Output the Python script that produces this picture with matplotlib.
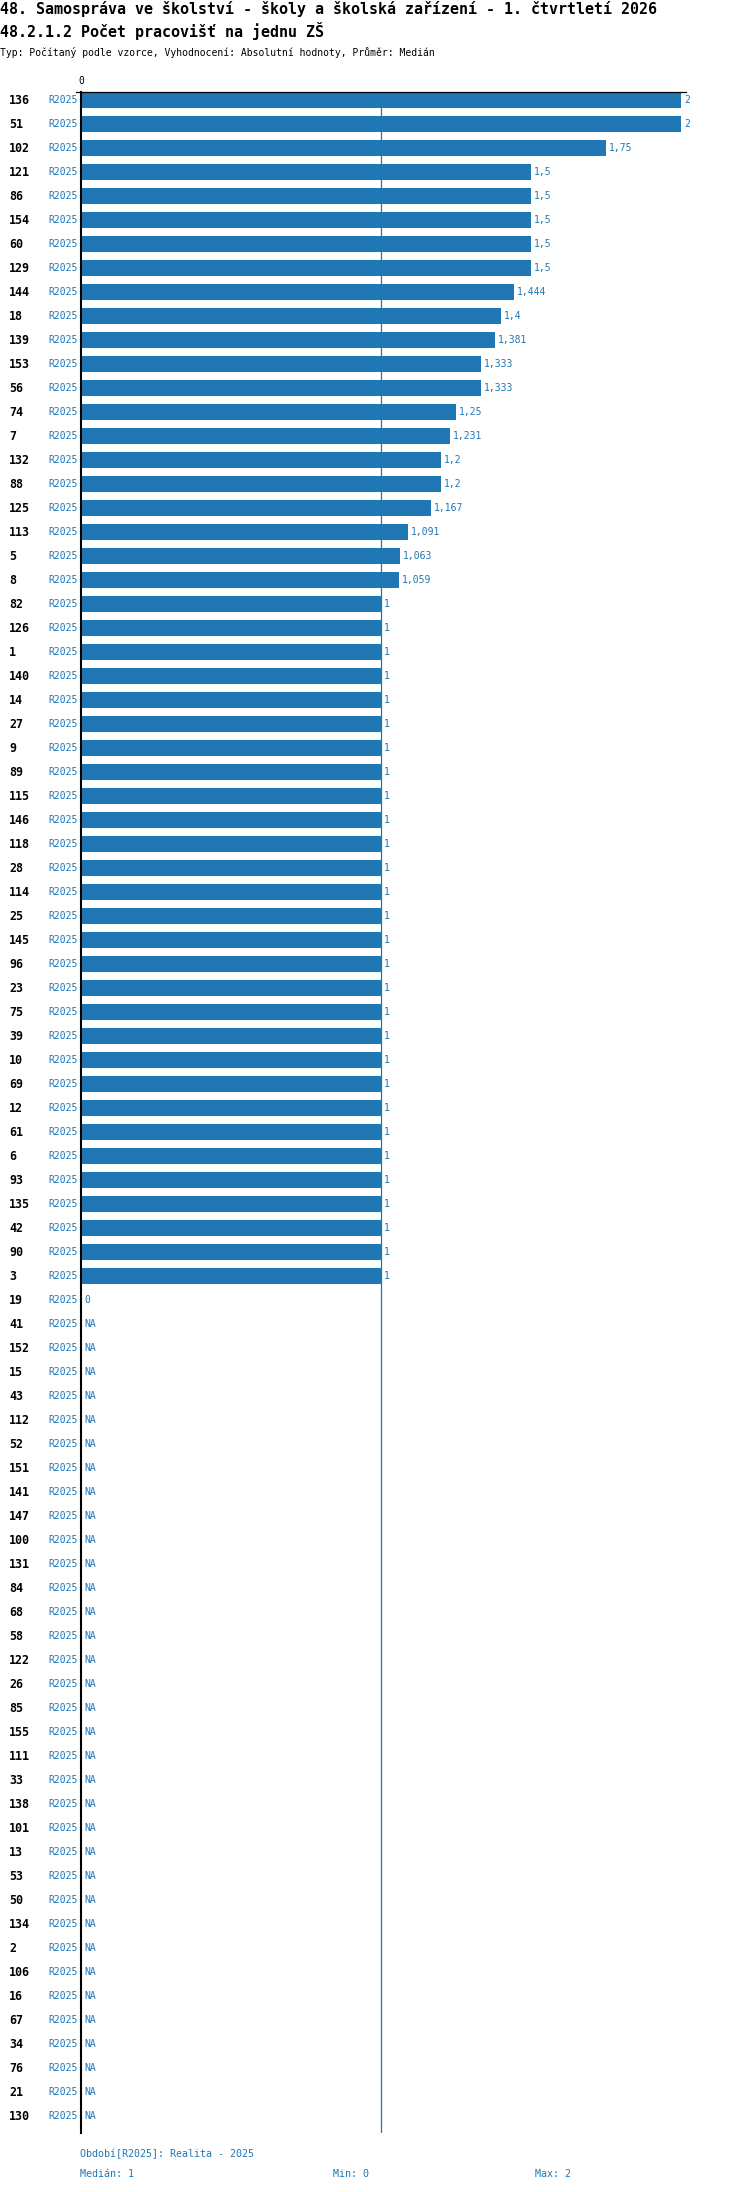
import numpy as np
import matplotlib
matplotlib.use('Agg')
import matplotlib.pyplot as plt
import matplotlib.transforms as mtransforms

# data
ids = [136, 51, 102, 121, 86, 154, 60, 129, 144, 18, 139, 153, 56, 74, 7, 132, 88, 125, 113, 5, 8,
       82, 126, 1, 140, 14, 27, 9, 89, 115, 146, 118, 28, 114, 25, 145, 96, 23, 75, 39, 10, 69, 12,
       61, 6, 93, 135, 42, 90, 3, 19,
       41, 152, 15, 43, 112, 52, 151, 141, 147, 100, 131, 84, 68, 58, 122, 26, 85, 155, 111, 33,
       138, 101, 13, 53, 50, 134, 2, 106, 16, 67, 34, 76, 21, 130]
values = [2, 2, 1.75, 1.5, 1.5, 1.5, 1.5, 1.5, 1.444, 1.4, 1.381, 1.333, 1.333, 1.25, 1.231, 1.2,
          1.2, 1.167, 1.091, 1.063, 1.059] + [1] * 29 + [0] + [np.nan] * 34
period = 'R2025'
period_name = 'Realita - 2025'

title1 = '48. Samospráva ve školství - školy a školská zařízení - 1. čtvrtletí 2026'
title2 = '48.2.1.2 Počet pracovišť na jednu ZŠ'
subtitle = 'Typ: Počítaný podle vzorce, Vyhodnocení: Absolutní hodnoty, Průměr: Medián'

blue = '#1f77b4'
mono = 'DejaVu Sans Mono'
W, H = 750, 2192

vals = np.array(values, dtype=float)
med = np.nanmedian(vals)
vmin = np.nanmin(vals)
vmax = np.nanmax(vals)


def fmt(v):
    s = f'{v:.3f}'.rstrip('0').rstrip('.')
    return s.replace('.', ',')


fig = plt.figure(figsize=(W / 100, H / 100), dpi=100)
# axes in pixel units: x 81..686, y 92..2133
ax = fig.add_axes([81 / W, (H - 2133) / H, (686 - 81) / W, (2133 - 92) / H])
n = len(ids)
y = np.arange(n)
ax.set_xlim(0, 605 / 300)
ax.set_ylim(n - 1 + 17 / 24, -8 / 24)
ax.barh(y, np.nan_to_num(vals), height=16 / 24, color=blue, zorder=2)
ax.axvline(med, color=blue, lw=0.9, zorder=1)
for s in ['right', 'bottom', 'top']:
    ax.spines[s].set_visible(False)
ax.spines['left'].set_linewidth(1.5)
ax.spines['left'].set_zorder(3)
ax.set_xticks([])
ax.set_yticks([])

# top line and 0 tick label
fig.add_artist(plt.Line2D([76 / W, 686 / W], [(H - 92) / H] * 2, color='black', lw=0.9,
                          transform=fig.transFigure))
fig.text(81 / W, 1 - 81 / H, '0', ha='center', va='center', fontsize=7, family=mono)

trans = mtransforms.blended_transform_factory(fig.transFigure, ax.transData)
off = mtransforms.offset_copy(ax.transData, fig=fig, x=3, y=0, units='dots')
for i, (lab, v) in enumerate(zip(ids, vals)):
    ax.text(9 / W, i, str(lab), transform=trans, ha='left', va='center', fontsize=8.4,
            fontweight='bold', family=mono, color='black')
    ax.text(48 / W, i, period, transform=trans, ha='left', va='center', fontsize=7,
            family=mono, color=blue)
    txt = 'NA' if np.isnan(v) else fmt(v)
    xv = 0 if np.isnan(v) else v
    ax.text(xv, i, txt, transform=off, ha='left', va='center', fontsize=7,
            family=mono, color=blue)

# titles
fig.text(0, 1 - 9 / H, title1, ha='left', va='center', fontsize=10.8, fontweight='bold', family=mono)
fig.text(0, 1 - 31 / H, title2, ha='left', va='center', fontsize=10.8, fontweight='bold', family=mono)
fig.text(0, 1 - 52 / H, subtitle, ha='left', va='center', fontsize=7.05, family=mono)

# footer
fig.text(80 / W, 1 - 2154 / H, f'Období[{period}]: {period_name}', ha='left', va='center',
         fontsize=7.2, family=mono, color=blue)
fig.text(80 / W, 1 - 2174 / H, f'Medián: {fmt(med)}', ha='left', va='center',
         fontsize=7.2, family=mono, color=blue)
fig.text(333 / W, 1 - 2174 / H, f'Min: {fmt(vmin)}', ha='left', va='center',
         fontsize=7.2, family=mono, color=blue)
fig.text(535 / W, 1 - 2174 / H, f'Max: {fmt(vmax)}', ha='left', va='center',
         fontsize=7.2, family=mono, color=blue)

fig.savefig('out.png', dpi=100)
